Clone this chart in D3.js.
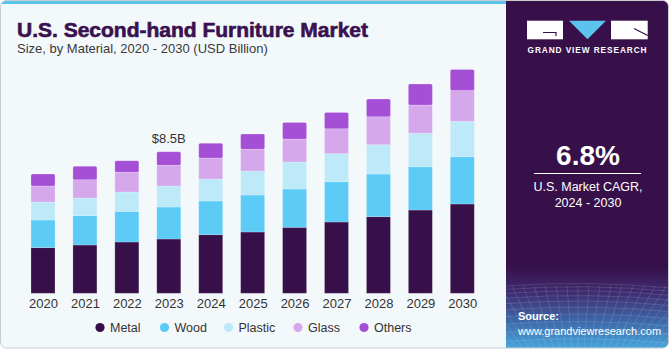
<!DOCTYPE html>
<html>
<head>
<meta charset="utf-8">
<script src="https://cdn.jsdelivr.net/npm/d3@7"></script>
<style>
  html, body { margin: 0; padding: 0; background: #ffffff; }
  svg { display: block; font-family: "Liberation Sans", Arial, sans-serif; }
</style>
</head>
<body>
<svg id="chart" width="671" height="350"></svg>
<script>
// ---- data ----
const years = ["2020","2021","2022","2023","2024","2025","2026","2027","2028","2029","2030"];
const seriesNames = ["Metal","Wood","Plastic","Glass","Others"];
const metal   = [2.74, 2.90, 3.08, 3.26, 3.52, 3.68, 3.96, 4.28, 4.60, 5.00, 5.36];
const wood    = [1.66, 1.76, 1.84, 1.92, 2.02, 2.22, 2.30, 2.42, 2.56, 2.60, 2.84];
const plastic = [1.08, 1.06, 1.16, 1.26, 1.32, 1.44, 1.62, 1.68, 1.76, 2.00, 2.12];
const glass   = [0.96, 1.10, 1.18, 1.24, 1.26, 1.30, 1.38, 1.50, 1.68, 1.70, 1.86];
const others  = [0.72, 0.80, 0.70, 0.82, 0.88, 0.92, 1.00, 0.98, 1.06, 1.26, 1.26];
const colors  = ["#37104a", "#5ccbf5", "#bde9f9", "#d5a8ec", "#a44fd6"];
const annotation = { year: "2023", label: "$8.5B" };

const svg = d3.select("#chart");
const W = 671, H = 350;

// ---- card background ----
const defs = svg.append("defs");
const clip = defs.append("clipPath").attr("id", "card");
clip.append("rect").attr("x", 0.5).attr("y", 0.5).attr("width", W - 3).attr("height", H - 2.5).attr("rx", 6);

const g0 = svg.append("g").attr("clip-path", "url(#card)");
g0.append("rect").attr("x", 0).attr("y", 0).attr("width", W).attr("height", H).attr("fill", "#f3f8fb");
g0.append("rect").attr("x", 0).attr("y", 0).attr("width", 506).attr("height", 4).attr("fill", "#5cc3ec");

// right panel
const grad = defs.append("linearGradient").attr("id", "pgrad").attr("x1", 0).attr("y1", 0).attr("x2", 0).attr("y2", 1);
grad.append("stop").attr("offset", "0%").attr("stop-color", "#37104a");
grad.append("stop").attr("offset", "76%").attr("stop-color", "#37104a");
grad.append("stop").attr("offset", "84%").attr("stop-color", "#3f2e72");
grad.append("stop").attr("offset", "92%").attr("stop-color", "#3d6aaa");
grad.append("stop").attr("offset", "100%").attr("stop-color", "#46a8de");
g0.append("rect").attr("x", 506).attr("y", 0).attr("width", W - 506).attr("height", H).attr("fill", "url(#pgrad)");

// faint grid in bottom of panel
const gridG = g0.append("g").attr("stroke", "#ffffff").attr("stroke-opacity", 0.18).attr("stroke-width", 0.7).attr("fill", "none");
for (let i = 0; i < 14; i++) {
  const yy = 286 + i * i * 0.35 + i * 3;
  gridG.append("path").attr("d", `M506,${yy} Q588,${yy - 6} 671,${yy + 2}`);
}
for (let i = -6; i < 22; i++) {
  const xb = 506 + i * 9;
  gridG.append("path").attr("d", `M${xb + (i - 8) * 2},286 L${xb - (i - 8) * 3},350`);
}

// card border
svg.append("rect").attr("x", 0.5).attr("y", 0.5).attr("width", W - 3).attr("height", H - 2.5).attr("rx", 6)
  .attr("fill", "none").attr("stroke", "#c9ccd0").attr("stroke-width", 1);

// ---- titles ----
const title = svg.append("text").attr("x", 17).attr("y", 37)
  .attr("font-size", 20).attr("font-weight", "bold").attr("fill", "#3a1150")
  .attr("stroke", "#3a1150").attr("stroke-width", 0.6)
  .style("font-family", "'Liberation Sans', Arial, sans-serif")
  .text("U.S. Second-hand Furniture Market");
const tl = title.node().getComputedTextLength();
if (Math.abs(tl - 351) > 2) title.attr("textLength", 351).attr("lengthAdjust", "spacingAndGlyphs");

svg.append("text").attr("x", 17).attr("y", 53)
  .attr("font-size", 13).attr("fill", "#3a3a3a")
  .text("Size, by Material, 2020 - 2030 (USD Billion)");

// ---- chart ----
const baseY = 293.3;
const totals = years.map((_, i) => metal[i] + wood[i] + plastic[i] + glass[i] + others[i]);
const y = d3.scaleLinear().domain([0, 8.5]).range([baseY, baseY - 141.6]);
const x = d3.scalePoint().domain(years).range([43, 462.3]);
const bw = 24;

const table = years.map((yr, i) => ({ year: yr, Metal: metal[i], Wood: wood[i], Plastic: plastic[i], Glass: glass[i], Others: others[i] }));
const stacked = d3.stack().keys(seriesNames)(table);

const barsG = svg.append("g");
stacked.forEach((layer, li) => {
  barsG.append("g").selectAll("rect").data(layer).join("rect")
    .attr("x", d => x(d.data.year) - bw / 2)
    .attr("y", d => y(d[1]))
    .attr("width", bw)
    .attr("height", d => y(d[0]) - y(d[1]))
    .attr("rx", li === seriesNames.length - 1 ? 1.5 : 0)
    .attr("fill", colors[li])
    .attr("stroke", "#ffffff").attr("stroke-opacity", 0.25).attr("stroke-width", 0.8);
});

// x axis labels
const xAxis = d3.axisBottom(x).tickSize(0).tickPadding(0);
const axG = svg.append("g").attr("transform", `translate(0,${baseY + 4})`).call(xAxis);
axG.select(".domain").remove();
axG.selectAll("text").attr("font-size", 13).attr("fill", "#333333")
  .style("font-family", "'Liberation Sans', Arial, sans-serif").attr("dy", "0.85em");

// annotation
const ai = years.indexOf(annotation.year);
svg.append("text").attr("x", x(annotation.year)).attr("y", y(totals[ai]) - 9)
  .attr("text-anchor", "middle").attr("font-size", 13).attr("fill", "#333333")
  .text(annotation.label);

// legend
const legendX = [100, 164.5, 228.5, 298, 364];
const lg = svg.append("g");
seriesNames.forEach((n, i) => {
  lg.append("circle").attr("cx", legendX[i]).attr("cy", 327.5).attr("r", 4.6).attr("fill", colors[i]);
  lg.append("text").attr("x", legendX[i] + 10).attr("y", 332).attr("font-size", 12.5).attr("fill", "#333333").text(n);
});

// ---- right panel content ----
const logo = svg.append("g");
logo.append("rect").attr("x", 527).attr("y", 20.7).attr("width", 36).attr("height", 18.6).attr("fill", "#ffffff");
logo.append("path").attr("d", "M543,32.5 L556,32.5 L556,36").attr("stroke", "#37104a").attr("stroke-width", 1.2).attr("fill", "none");
logo.append("path").attr("d", "M569,20.7 L606,20.7 L587.5,39.3 Z").attr("fill", "#5cc3ec");
logo.append("rect").attr("x", 611).attr("y", 20.7).attr("width", 36.7).attr("height", 18.6).attr("fill", "#ffffff");
logo.append("path").attr("d", "M634,28.5 L647.7,35.5").attr("stroke", "#37104a").attr("stroke-width", 1.2).attr("fill", "none");
svg.append("text").attr("x", 587.5).attr("y", 53.3).attr("text-anchor", "middle")
  .attr("font-size", 8.3).attr("font-weight", "bold").attr("fill", "#ffffff").attr("letter-spacing", 0.9)
  .text("GRAND VIEW RESEARCH");

svg.append("text").attr("x", 588).attr("y", 165).attr("text-anchor", "middle")
  .attr("font-size", 28).attr("font-weight", "bold").attr("fill", "#ffffff").text("6.8%");
svg.append("line").attr("x1", 534).attr("x2", 641).attr("y1", 173.5).attr("y2", 173.5)
  .attr("stroke", "#ffffff").attr("stroke-width", 1);
svg.append("text").attr("x", 588).attr("y", 191).attr("text-anchor", "middle")
  .attr("font-size", 12.5).attr("fill", "#ffffff").text("U.S. Market CAGR,");
svg.append("text").attr("x", 588).attr("y", 206.5).attr("text-anchor", "middle")
  .attr("font-size", 12.5).attr("fill", "#ffffff").text("2024 - 2030");

svg.append("text").attr("x", 518).attr("y", 320).attr("font-size", 11).attr("font-weight", "bold")
  .attr("fill", "#ffffff").text("Source:");
svg.append("text").attr("x", 518).attr("y", 334.5).attr("font-size", 11).attr("fill", "#ffffff")
  .text("www.grandviewresearch.com");
</script>
</body>
</html>
